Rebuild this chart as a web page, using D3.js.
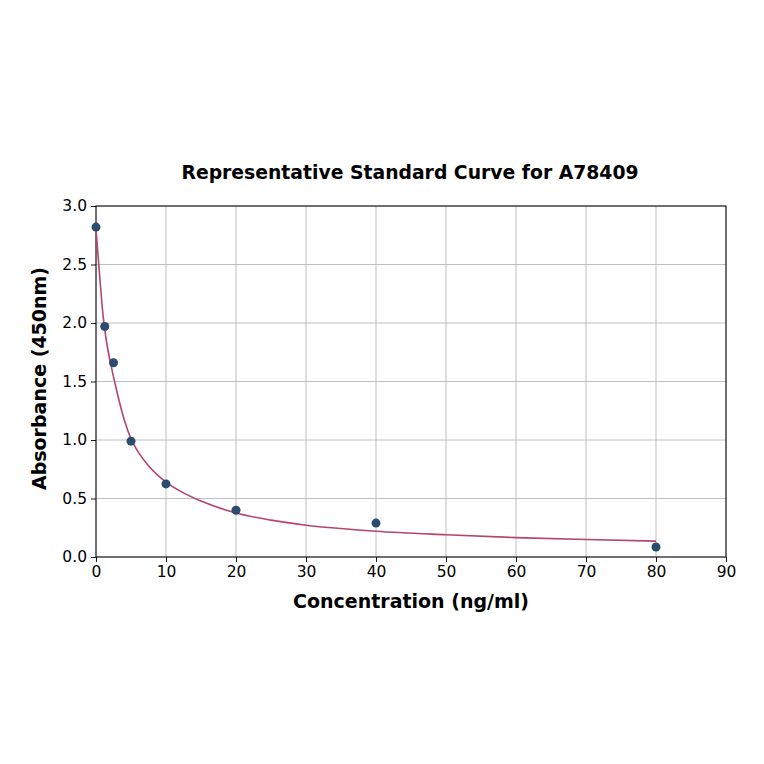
<!DOCTYPE html>
<html>
<head>
<meta charset="utf-8">
<script src="https://cdn.jsdelivr.net/npm/d3@7"></script>
<style>
  body { margin: 0; background: #fff; }
  text { font-family: "DejaVu Sans", sans-serif; }
</style>
</head>
<body>
<div id="chart-area"></div>
<script>
// measured standards
let conc = [0, 1.25, 2.5, 5, 10, 20, 40, 80];
let absorb = [2.82, 1.97, 1.66, 0.99, 0.625, 0.40, 0.29, 0.085];

// fitted curve
let fitX = [0, 0.5, 1, 1.5, 2, 2.5, 3, 4, 5, 6, 7.5, 10, 12.5, 15, 20, 25, 30, 35, 40, 50, 60, 70, 80];
let fitY = [2.80, 2.42, 2.07, 1.84, 1.68, 1.54, 1.41, 1.18, 1.01, 0.90, 0.78, 0.64, 0.548, 0.478, 0.376, 0.315, 0.272, 0.243, 0.22, 0.19, 0.166, 0.149, 0.136];

let xTicks = [0, 10, 20, 30, 40, 50, 60, 70, 80, 90];
let yTicks = [0.0, 0.5, 1.0, 1.5, 2.0, 2.5, 3.0];

let margin = { left: 96, right: 38, top: 206, bottom: 207 };
let width = 764 - margin.left - margin.right,
    height = 764 - margin.top - margin.bottom;

let svg = d3.select("#chart-area")
    .append("svg")
        .attr("width", 764)
        .attr("height", 764);

let g = svg.append("g")
    .attr("transform", `translate(${margin.left}, ${margin.top})`);

let x = d3.scaleLinear().domain([0, 90]).range([0, width]);
let y = d3.scaleLinear().domain([0, 3]).range([height, 0]);

// grid
g.append("g")
    .selectAll("line")
    .data(xTicks)
    .enter().append("line")
        .attr("x1", d => x(d)).attr("x2", d => x(d))
        .attr("y1", 0).attr("y2", height)
        .attr("stroke", "#b0b0b0").attr("stroke-width", 0.8);
g.append("g")
    .selectAll("line")
    .data(yTicks)
    .enter().append("line")
        .attr("x1", 0).attr("x2", width)
        .attr("y1", d => y(d)).attr("y2", d => y(d))
        .attr("stroke", "#b0b0b0").attr("stroke-width", 0.8);

// axes
let xAxisCall = d3.axisBottom(x).tickValues(xTicks).tickSize(5).tickPadding(4).tickFormat(d3.format("d"));
let yAxisCall = d3.axisLeft(y).tickValues(yTicks).tickSize(5).tickPadding(4).tickFormat(d3.format(".1f"));

let xAxis = g.append("g")
    .attr("transform", `translate(0, ${height})`)
    .call(xAxisCall);
let yAxis = g.append("g").call(yAxisCall);

[xAxis, yAxis].forEach(a => {
    a.select(".domain").remove();
    a.attr("font-size", null).attr("font-family", null);
    a.selectAll("text")
        .style("font-size", "15.5px")
        .attr("fill", "#000");
    a.selectAll("line").attr("stroke", "#000").attr("stroke-width", 0.9);
});

// frame
g.append("rect")
    .attr("x", 0).attr("y", 0)
    .attr("width", width).attr("height", height)
    .attr("fill", "none")
    .attr("stroke", "#000")
    .attr("stroke-width", 1);

// fitted curve
let line = d3.line()
    .x((d, i) => x(fitX[i]))
    .y(d => y(d))
    .curve(d3.curveMonotoneX);

g.append("path")
    .datum(fitY)
    .attr("d", line)
    .attr("fill", "none")
    .attr("stroke", "#b5446e")
    .attr("stroke-width", 1.6);

// points
g.selectAll("circle")
    .data(conc)
    .enter().append("circle")
        .attr("cx", d => x(d))
        .attr("cy", (d, i) => y(absorb[i]))
        .attr("r", 4.5)
        .attr("fill", "#2b4c6f");

// labels
svg.append("text")
    .attr("x", 410)
    .attr("y", 179)
    .attr("text-anchor", "middle")
    .style("font-size", "18.8px")
    .attr("font-weight", "bold")
    .text("Representative Standard Curve for A78409");

svg.append("text")
    .attr("x", margin.left + width / 2)
    .attr("y", 608)
    .attr("text-anchor", "middle")
    .style("font-size", "19px")
    .attr("font-weight", "bold")
    .text("Concentration (ng/ml)");

svg.append("text")
    .attr("x", -(margin.top + height / 2) + 3)
    .attr("y", 46)
    .attr("text-anchor", "middle")
    .attr("transform", "rotate(-90)")
    .style("font-size", "19px")
    .attr("font-weight", "bold")
    .text("Absorbance (450nm)");
</script>
</body>
</html>
